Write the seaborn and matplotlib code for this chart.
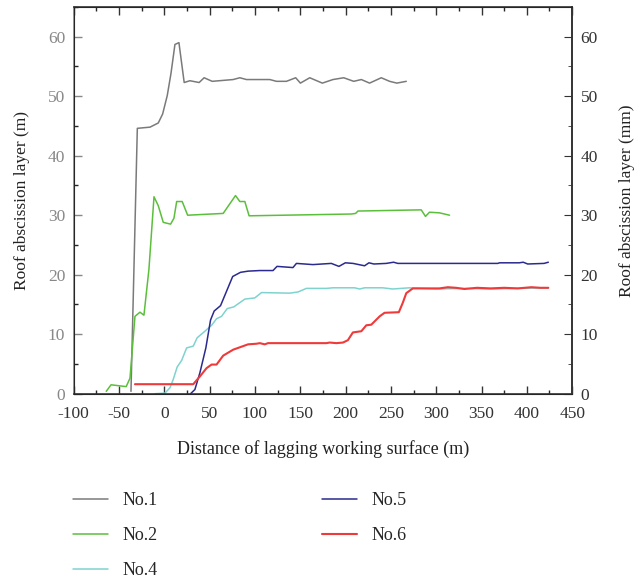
import numpy as np
import pandas as pd
import matplotlib
matplotlib.use("Agg")
import matplotlib.pyplot as plt
from matplotlib.ticker import MultipleLocator
import seaborn as sns

# Donnees (x en m, y en m)
no1_x = [-36.7, -29.7, -15.7, -6.6, -1.8, 3.3, 7.4, 11.8, 16.2, 22.0, 28.3, 38.5, 44.0, 52.9,
         76.0, 83.4, 90.7, 116.4, 123.8, 134.8, 145.0, 150.2, 160.5, 174.4, 186.1, 198.0,
         209.0, 217.4, 226.5, 239.4, 248.6, 256.6, 267.0]
no1_y = [0.4, 44.6, 44.8, 45.5, 47.0, 50.1, 53.8, 58.7, 59.0, 52.3, 52.6, 52.3, 53.1, 52.5,
         52.8, 53.1, 52.8, 52.8, 52.5, 52.5, 53.1, 52.2, 53.1, 52.2, 52.8, 53.1,
         52.5, 52.8, 52.2, 53.1, 52.5, 52.2, 52.5]

no2_x = [-64.0, -58.7, -50.6, -42.0, -37.8, -32.3, -26.8, -22.4, -16.9, -11.3, -6.6, -1.1,
         7.0, 10.7, 13.7, 19.8, 25.8, 65.0, 78.6, 83.4, 88.9, 93.6, 206.4, 211.1, 213.7,
         283.5, 288.2, 292.6, 303.6, 314.7]
no2_y = [0.4, 1.5, 1.35, 1.2, 2.6, 13.0, 13.7, 13.2, 20.9, 33.1, 31.6, 28.8,
         28.5, 29.5, 32.3, 32.3, 30.0, 30.3, 33.3, 32.3, 32.3, 29.9, 30.2, 30.3, 30.7,
         30.9, 29.8, 30.5, 30.4, 30.0]

no4_x = [-10.0, 0.8, 6.3, 9.9, 14.3, 19.2, 24.7, 32.0, 36.3, 44.8, 52.2, 57.7, 63.2, 69.4,
         76.8, 88.9, 99.9, 107.3, 138.4, 147.6, 156.8, 178.9, 186.0, 210.0, 215.5, 221.0,
         241.0, 252.0, 270.6, 300.0, 330.0, 360.0, 390.0, 423.7]
no4_y = [0.0, 0.1, 1.0, 2.4, 4.5, 5.6, 7.7, 8.0, 9.4, 10.5, 11.5, 12.6, 13.0, 14.3,
         14.6, 15.9, 16.1, 17.0, 16.9, 17.1, 17.7, 17.7, 17.8, 17.8, 17.6, 17.8,
         17.8, 17.6, 17.8, 17.6, 17.7, 17.6, 17.7, 17.8]

no5_x = [29.0, 33.8, 39.3, 45.9, 51.1, 55.1, 62.1, 75.5, 84.1, 92.5, 105.4, 120.0, 124.4,
         142.0, 145.8, 164.0, 184.3, 192.7, 199.8, 208.3, 221.0, 225.8, 231.3, 244.9, 253.0,
         257.7, 303.6, 367.8, 370.0, 391.7, 396.0, 401.0, 419.0, 423.7]
no5_y = [0.0, 0.7, 3.5, 7.7, 12.4, 13.9, 14.8, 19.7, 20.4, 20.6, 20.7, 20.7, 21.4,
         21.2, 21.9, 21.7, 21.9, 21.4, 22.0, 21.9, 21.5, 22.0, 21.8, 21.9, 22.1,
         21.9, 21.9, 21.9, 22.0, 22.0, 22.1, 21.8, 21.9, 22.1]

no6_x = [-32.3, 32.0, 39.3, 46.7, 52.2, 57.7, 65.0, 76.0, 92.5, 101.7, 105.4, 110.9, 114.5,
         178.9, 182.5, 189.8, 197.2, 202.6, 208.1, 217.4, 222.9, 228.4, 237.6, 243.0, 258.8,
         263.2, 267.0, 274.2, 303.6, 312.8, 322.0, 331.0, 345.0, 360.0, 375.0, 390.0,
         405.0, 415.0, 423.7]
no6_y = [1.6, 1.6, 2.9, 4.3, 4.9, 4.9, 6.4, 7.4, 8.3, 8.4, 8.5, 8.3, 8.5,
         8.5, 8.6, 8.5, 8.6, 9.0, 10.3, 10.5, 11.5, 11.6, 13.0, 13.6, 13.7,
         15.3, 16.9, 17.7, 17.7, 17.9, 17.8, 17.6, 17.8, 17.7, 17.8, 17.7,
         17.9, 17.8, 17.8]

SERIES = [
    ("No.1", no1_x, no1_y, "#7a7a7a", 1.1),
    ("No.2", no2_x, no2_y, "#5cbf3c", 1.1),
    ("No.4", no4_x, no4_y, "#7fd3cf", 1.1),
    ("No.5", no5_x, no5_y, "#2b2a8e", 1.1),
    ("No.6", no6_x, no6_y, "#ee3a3a", 1.5),
]

sns.set_style("ticks")
plt.rcParams["font.family"] = ["Liberation Serif", "DejaVu Serif"]
plt.rcParams["font.size"] = 12.5
plt.rcParams["axes.unicode_minus"] = False

fig = plt.figure(figsize=(6.4, 5.79), dpi=100)
ax = fig.add_axes([0.115, 0.32, 0.779, 0.668])

for name, xs, ys, color, lw in SERIES:
    df = pd.DataFrame({"x": xs, "y": ys})
    sns.lineplot(data=df, x="x", y="y", ax=ax, color=color, lw=lw,
                 sort=False, estimator=None, label=name, legend=False)

ax.set_xlim(-100, 450)
ax.set_ylim(0, 65)
ax.xaxis.set_major_locator(MultipleLocator(50))
ax.xaxis.set_minor_locator(MultipleLocator(25))
ax.yaxis.set_major_locator(MultipleLocator(10))
ax.yaxis.set_minor_locator(MultipleLocator(5))
ax.tick_params(which="both", direction="in", top=True, right=False)
ax.tick_params(which="major", length=6, width=1)
ax.tick_params(which="minor", length=3, width=1)
ax.tick_params(axis="x", pad=9, colors="#333333", labelsize=12.5)
ax.tick_params(axis="y", pad=6, colors="#888888", labelsize=12.5)
ax.set_xlabel("Distance of lagging working surface (m)", fontsize=13, labelpad=13, color="#222222")
ax.set_ylabel("Roof abscission layer (m)", fontsize=12.5, labelpad=13, color="#222222")
for side in ["top", "bottom", "right"]:
    ax.spines[side].set_color("#333333")
ax.spines["left"].set_color("#888888")
for sp in ax.spines.values():
    sp.set_linewidth(1.2)

ax2 = ax.twinx()
ax2.set_ylim(0, 65)
ax2.yaxis.set_major_locator(MultipleLocator(10))
ax2.yaxis.set_minor_locator(MultipleLocator(5))
ax2.tick_params(which="both", direction="in", colors="#333333", labelsize=12.5, pad=6)
ax2.tick_params(which="major", length=6)
ax2.tick_params(which="minor", length=3)
ax2.set_ylabel("Roof abscission layer (mm)", fontsize=12.5, labelpad=15, color="#222222")
ax2.spines["right"].set_color("#333333")
ax2.spines["right"].set_linewidth(1.2)

handles, labels = ax.get_legend_handles_labels()
fig.legend(handles, labels, ncol=2, loc="upper left",
           bbox_to_anchor=(64 / 640, 1 - 483 / 579), frameon=False,
           handlelength=1.95, handletextpad=0.8, columnspacing=9.1,
           labelspacing=1.0, borderpad=0, fontsize=13)

fig.savefig("out.png", dpi=100)
